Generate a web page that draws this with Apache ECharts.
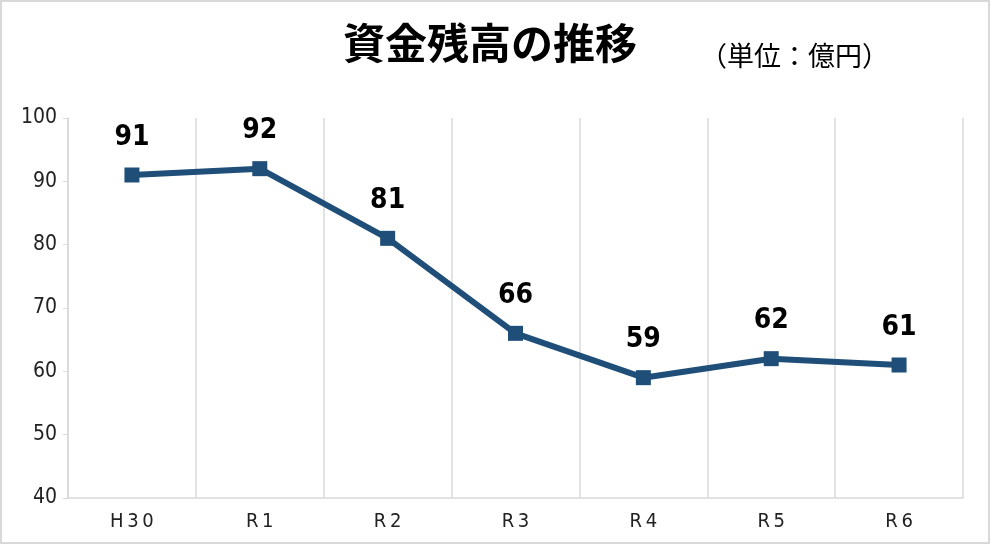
<!DOCTYPE html>
<html>
<head>
    <meta charset="utf-8">
    <title>資金残高の推移</title>
    <script src="https://cdn.jsdelivr.net/npm/echarts@6/dist/echarts.min.js"></script>
    <style>
        html, body { margin: 0; padding: 0; background: #fff; }
        #main { width: 1000px; height: 547px; }
    </style>
</head>
<body>
<div id="main"></div>
<script type="text/javascript">
    // 年度
    var years = ['H30', 'R1', 'R2', 'R3', 'R4', 'R5', 'R6'];
    // 資金残高（億円）
    var balance = [91, 92, 81, 66, 59, 62, 61];
    var yMin = 40, yMax = 100, yStep = 10;

    var narrow = '"Liberation Sans Narrow", "DejaVu Sans Condensed", "Noto Sans CJK JP", sans-serif';
    var jp = '"Noto Sans CJK JP", sans-serif';

    var myChart = echarts.init(document.getElementById('main'));
    var option = {
        backgroundColor: '#fff',
        animation: false,
        graphic: [{
            type: 'rect',
            shape: { x: 1, y: 1, width: 988, height: 542 },
            style: { fill: 'none', stroke: '#d9d9d9', lineWidth: 2 }
        }, {
            type: 'text',
            left: 343, top: 22,
            style: { text: '資金残高の推移', font: 'bold 42px ' + jp, fill: '#000' }
        }, {
            type: 'text',
            left: 700, top: 42,
            style: { text: '（単位：億円）', font: '27px ' + jp, fill: '#000' }
        }],
        grid: { left: 68, right: 37, top: 118, bottom: 49 },
        xAxis: {
            type: 'category',
            data: years,
            boundaryGap: true,
            axisLine: { lineStyle: { color: '#d9d9d9', width: 1.5 } },
            axisTick: { show: false },
            splitLine: { show: true, lineStyle: { color: '#d9d9d9', width: 1.5 } },
            axisLabel: { color: '#222', fontSize: 20, fontFamily: narrow, margin: 14,
                formatter: function (v) { return v.split('').join('\u2009'); } }
        },
        yAxis: {
            type: 'value',
            min: yMin, max: yMax, interval: yStep,
            axisLine: { show: true, lineStyle: { color: '#d9d9d9', width: 1.5 } },
            axisTick: { show: true, length: 5, lineStyle: { color: '#d9d9d9' } },
            splitLine: { show: false },
            axisLabel: { color: '#222', fontSize: 21, fontFamily: narrow, margin: 11 }
        },
        series: [{
            type: 'line',
            data: balance,
            symbol: 'rect',
            symbolSize: 15,
            lineStyle: { color: '#1f4e79', width: 6 },
            itemStyle: { color: '#1f4e79' },
            label: {
                show: true, position: 'top', distance: 16,
                color: '#000', fontSize: 28, fontWeight: 'bold', fontFamily: narrow
            }
        }]
    };
    myChart.setOption(option);
</script>
</body>
</html>
